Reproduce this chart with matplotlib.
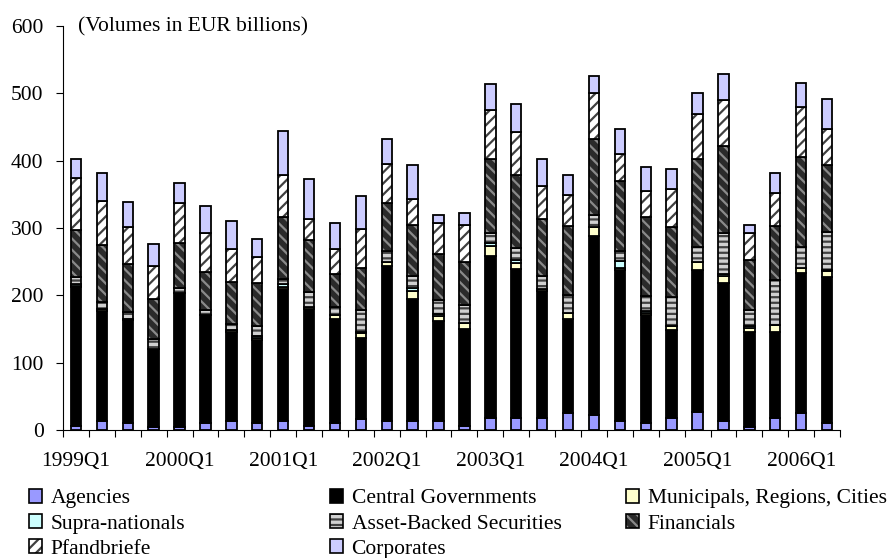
import numpy as np
import matplotlib
matplotlib.use("Agg")
import matplotlib.pyplot as plt
from matplotlib.patches import Patch

plt.rcParams["font.family"] = ["Liberation Serif", "DejaVu Serif"]
plt.rcParams["hatch.linewidth"] = 1.6

# === 数据 (EUR billions) ===
quarters = [f"{y}Q{q}" for y in range(1999, 2007) for q in range(1, 5)][:30]
tick_labels = ["1999Q1", "2000Q1", "2001Q1", "2002Q1", "2003Q1", "2004Q1", "2005Q1", "2006Q1"]

agencies = [6, 13, 10, 4, 4, 10, 13, 10, 13, 6, 10, 16, 13, 13, 13, 6, 18, 18, 18, 25,
            22, 13, 10, 18, 27, 13, 4, 18, 25, 10]
central = [207, 164, 154, 117, 200, 161, 132, 123, 196, 173, 155, 120, 231, 182, 149, 144,
           240, 221, 189, 140, 266, 224, 161, 130, 210, 206, 141, 127, 208, 217]
municipals = [1, 3, 1, 0, 0, 0, 3, 3, 4, 4, 6, 8, 6, 12, 8, 9, 16, 9, 3, 9,
              13, 3, 3, 7, 12, 9, 6, 11, 8, 9]
supra = [3, 0, 0, 0, 0, 0, 0, 4, 4, 0, 0, 2, 0, 4, 3, 0, 3, 4, 0, 0,
         0, 11, 3, 0, 0, 3, 4, 0, 0, 1]
abs_sec = [10, 10, 10, 14, 7, 7, 9, 15, 8, 22, 11, 32, 16, 18, 20, 27, 16, 19, 19, 26,
           18, 15, 22, 43, 23, 62, 23, 67, 31, 57]
financials = [70, 85, 71, 59, 67, 56, 63, 63, 92, 77, 50, 62, 71, 76, 68, 64, 109, 107, 84, 103,
              113, 104, 118, 104, 130, 129, 74, 80, 133, 100]
pfandbriefe = [77, 65, 56, 49, 59, 59, 49, 39, 61, 32, 37, 58, 58, 38, 46, 54, 73, 64, 50, 46,
               69, 40, 38, 56, 67, 68, 41, 49, 75, 53]
corporates = [28, 41, 36, 33, 30, 39, 42, 27, 66, 59, 39, 49, 37, 50, 12, 18, 39, 42, 39, 29,
              25, 37, 35, 30, 31, 38, 12, 29, 36, 44]

# (名称, 数据, 填充色, 阴影, 阴影颜色)
series = [
    ("Agencies", agencies, "#9999ff", None, "#9999ff"),
    ("Central Governments", central, "#000000", None, "#000000"),
    ("Municipals, Regions, Cities", municipals, "#ffffcc", None, "#ffffcc"),
    ("Supra-nationals", supra, "#ccffff", None, "#ccffff"),
    ("Asset-Backed Securities", abs_sec, "#d0d0d0", "---", "#404040"),
    ("Financials", financials, "#2a2a2a", "\\\\\\", "#8a8a8a"),
    ("Pfandbriefe", pfandbriefe, "#ffffff", "///", "#404040"),
    ("Corporates", corporates, "#ccccff", None, "#ccccff"),
]

# === 绘图 ===
fig = plt.figure(figsize=(8.89, 5.58), dpi=100)
ax = fig.add_axes([63 / 889, 1 - 430 / 558, 777 / 889, 404 / 558])

x = np.arange(len(quarters))
width = 0.4
bottom = np.zeros(len(quarters))
handles = {}
for name, vals, fc, hatch, hc in series:
    vals = np.array(vals, dtype=float)
    ax.bar(x, vals, width, bottom=bottom, color=fc, hatch=hatch, edgecolor=hc, linewidth=0)
    ax.bar(x, vals, width, bottom=bottom, fill=False, edgecolor="black", linewidth=1.3)
    bottom += vals
    handles[name] = (Patch(facecolor=fc, hatch=hatch, edgecolor=hc, linewidth=0),
                     Patch(fill=False, edgecolor="black", linewidth=1.2))

ax.set_xlim(-0.5, len(quarters) - 0.5)
ax.set_ylim(0, 600)
ax.set_yticks(range(0, 601, 100))
ax.tick_params(axis="y", direction="out", length=5, labelsize=15.5, pad=9)

ax.set_xticks(np.arange(-0.5, len(quarters), 1))
ax.set_xticklabels([])
ax.tick_params(axis="x", which="major", direction="out", length=5)
ax.set_xticks(x[::4], minor=True)
ax.set_xticklabels(tick_labels, minor=True)
ax.tick_params(axis="x", which="minor", length=0, labelsize=15.5, pad=16)

for s in ["top", "right"]:
    ax.spines[s].set_visible(False)

fig.text(78 / 889, 1 - 27 / 558, "(Volumes in EUR billions)", fontsize=15.5, va="center")

# === 图例 (三列, 行优先) ===
cols = [
    (29, ["Agencies", "Supra-nationals", "Pfandbriefe"]),
    (330, ["Central Governments", "Asset-Backed Securities", "Corporates"]),
    (626, ["Municipals, Regions, Cities", "Financials"]),
]
for xpix, names in cols:
    fig.legend([handles[n] for n in names], names, loc="upper left",
               bbox_to_anchor=(xpix / 889, 1 - 489 / 558), frameon=False,
               fontsize=15.5, handlelength=0.6, handleheight=0.6, handletextpad=0.4,
               labelspacing=0.27, borderpad=0, borderaxespad=0)

fig.savefig("out.png", dpi=100)
